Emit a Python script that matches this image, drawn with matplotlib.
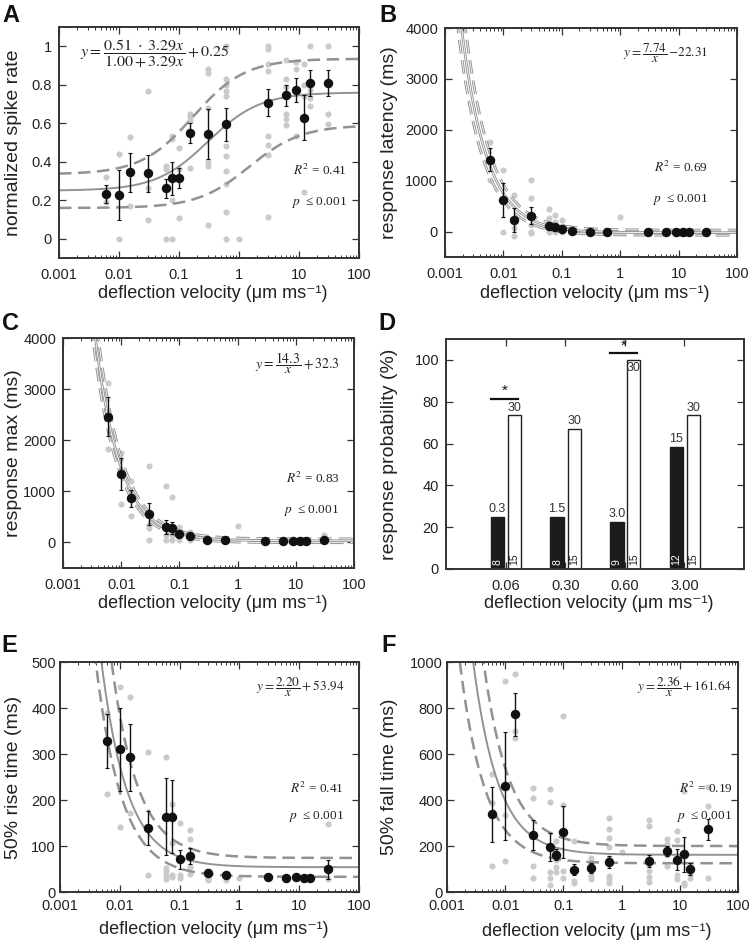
import numpy as np
import matplotlib
matplotlib.use("Agg")
import matplotlib.pyplot as plt
from matplotlib.ticker import FixedLocator, LogLocator, NullFormatter, FuncFormatter

plt.rcParams["font.family"] = ["Liberation Sans", "DejaVu Sans"]
plt.rcParams["mathtext.fontset"] = "stix"

# ---- data ----
vel = [0.006, 0.01, 0.015, 0.03, 0.06, 0.075, 0.1, 0.15, 0.3, 0.6, 3, 6, 9, 12, 15, 30]

# A: normalized spike rate
A_mean = [0.234, 0.227, 0.345, 0.34, 0.262, 0.314, 0.318, 0.549, 0.545, 0.594,
          0.707, 0.745, 0.771, 0.628, 0.811, 0.809]
A_err = [0.046, 0.13, 0.10, 0.095, 0.05, 0.087, 0.052, 0.05, 0.13, 0.085,
         0.071, 0.055, 0.062, 0.117, 0.068, 0.068]
A_gray = {0.006: [0.32, 0.19], 0.01: [0.44, 0.0], 0.015: [0.53, 0.17],
          0.03: [0.77, 0.265, 0.095], 0.06: [0.38, 0.36, 0.0],
          0.075: [0.535, 0.52, 0.2, 0.0], 0.1: [0.47, 0.36, 0.11],
          0.15: [0.65, 0.63, 0.61, 0.365], 0.3: [0.88, 0.86, 0.68, 0.40, 0.38, 0.07],
          0.6: [1.0, 0.83, 0.80, 0.77, 0.74, 0.48, 0.43, 0.35, 0.285, 0.14, 0.0],
          1: [0.0], 3: [1.0, 0.985, 0.91, 0.87, 0.535, 0.485, 0.435, 0.115],
          6: [0.93, 0.83, 0.79, 0.65, 0.62, 0.59], 9: [0.92, 0.88, 0.535],
          12: [0.91, 0.80, 0.74, 0.245], 15: [1.0, 0.775, 0.73, 0.69],
          30: [1.0, 0.65, 0.595]}
A_fit = [0.51, 3.29, 0.25]        # amp, k, base
A_hi = [0.60, 5.8, 0.335]
A_lo = [0.43, 0.67, 0.16]

# B: response latency
B_mean = [1412, 618, 228, 312, 110, 91, 52, 13, -5, -5, -15, -15, -15, -15, -15, -15]
B_err = [230, 340, 230, 170, 80, 50, 40, 15, 10, 10, 5, 5, 5, 5, 5, 10]
B_gray = {0.006: [1757, 1008], 0.01: [1200, 0], 0.015: [715, 65, -78],
          0.03: [1008, 650, 130, 0, -30], 0.06: [440, 260, 0], 0.075: [325, 195, 0],
          0.1: [228, 100, 0], 0.15: [65, 0], 0.3: [30], 1: [293]}
B_fit = [7.74, -22.31]
B_hi = [8.9, 28]
B_lo = [6.75, -72]

# C: response max
C_mean = [2460, 1338, 868, 561, 300, 280, 163, 117, 52, 40, 26, 20, 20, 20, 20, 40]
C_err = [385, 315, 165, 215, 140, 120, 50, 40, 20, 15, 10, 10, 10, 10, 10, 30]
C_gray = {0.006: [3120, 1830], 0.01: [1750, 750], 0.015: [1195, 510],
          0.03: [1500, 345, 280, 40], 0.06: [1095, 150, 52], 0.075: [880, 150, 52],
          0.1: [300, 240, 150, 52], 0.15: [200, 120, 52], 1: [325], 30: [150]}
C_fit = [14.3, 32.3]
C_hi = [15.9, 70]
C_lo = [13.0, -5]

# D: response probability
D_cats = ["0.06", "0.30", "0.60", "3.00"]
D_black = [25, 25, 22.5, 58.5]
D_white = [73.5, 67, 100, 73.5]
D_black_top = ["0.3", "1.5", "3.0", "15"]
D_white_top = ["30", "30", "30", "30"]
D_black_n = ["8", "8", "9", "12"]
D_white_n = ["15", "15", "15", "15"]
D_sig = [(0, 81.5), (2, 103.2)]

# E: 50% rise time
E_mean = [328, 310, 293, 140, 164, 164, 71, 78, 42, 36, 33, 30, 33, 30, 30, 49]
E_err = [58, 90, 73, 37, 83, 80, 20, 17, 7, 5, 3, 3, 3, 3, 3, 20]
E_gray = {0.006: [389, 214], 0.01: [446, 141], 0.015: [424, 172], 0.03: [304, 36],
          0.06: [293, 52, 46, 36, 29], 0.075: [192, 170, 107, 36, 32],
          0.1: [149, 36, 31], 0.15: [134, 115, 54, 40], 0.3: [31, 26],
          0.6: [40, 26], 1: [31], 30: [147, 29]}
E_fit = [2.20, 53.94]
E_hi = [3.1, 74]
E_lo = [1.85, 33]

# F: 50% fall time
F_mean = [338, 462, 772, 249, 196, 162, 261, 97, 104, 130, 135, 178, 141, 164, 101, 272]
F_err = [120, 235, 93, 65, 60, 25, 115, 25, 20, 25, 25, 20, 45, 75, 25, 45]
F_gray = {0.006: [514, 387, 113], 0.01: [916, 335, 135], 0.015: [948, 700, 668],
          0.03: [452, 408, 112, 62], 0.06: [450, 390, 88, 60, 30],
          0.075: [220, 180, 140, 110, 85], 0.1: [765, 380, 90, 60],
          0.15: [220, 50, 40], 0.3: [150, 120, 90, 70, 55],
          0.6: [320, 275, 235, 195, 150, 70, 55, 40], 1: [175],
          3: [315, 285, 120, 90, 65, 45], 6: [230, 210, 160, 115],
          9: [265, 225, 75, 55], 12: [440, 40, 30], 15: [60, 80], 30: [375, 455, 60]}
F_fit = [2.36, 161.64]
F_hi = [3.4, 200]
F_lo = [1.45, 125]

# ---- drawing ----
W, H = 749, 941
fig = plt.figure(figsize=(W / 100, H / 100), dpi=100)

FRAME = "#333333"
TXT = "#222222"
CURVE = "#929292"
GRAY = "#cacaca"
SERIF = ["Liberation Serif", "DejaVu Serif"]

xs = np.logspace(-3, 2, 600)


def hyper(p):
    return p[0] / xs + p[1]


def sat(p):
    return p[2] + p[0] * p[1] * xs / (1 + p[1] * xs)


def px_axes(l, t, r, b):
    return fig.add_axes([l / W, 1 - b / H, (r - l) / W, (b - t) / H])


def style(ax, padx=7, pady=4):
    for s in ax.spines.values():
        s.set_linewidth(1.4)
        s.set_color(FRAME)
    ax.tick_params(which="both", direction="in", top=True, right=True,
                   colors=FRAME, labelcolor=TXT, labelsize=10.5)
    ax.tick_params(which="major", length=5, width=0.9)
    ax.tick_params(which="minor", length=2.5, width=0.7)
    ax.tick_params(axis="x", pad=padx)
    ax.tick_params(axis="y", pad=pady)


def logx(ax):
    ax.set_xscale("log")
    ax.set_xlim(1e-3, 100)
    ax.xaxis.set_major_locator(FixedLocator([1e-3, 1e-2, 1e-1, 1, 10, 100]))
    ax.xaxis.set_major_formatter(FuncFormatter(lambda v, p: f"{v:g}"))
    ax.xaxis.set_minor_locator(LogLocator(base=10, subs=np.arange(2, 10)))
    ax.xaxis.set_minor_formatter(NullFormatter())


def scatter_panel(ax, gray, mean, err, ymin, ymax, yticks, fit, hi, lo, kind, double=False):
    for v, vals in gray.items():
        ax.plot([v] * len(vals), vals, "o", color=GRAY, ms=4.4, mec="none", zorder=1)
    f = sat if kind == "sat" else hyper
    for p, ls in [(hi, "--"), (lo, "--"), (fit, "-")]:
        y = f(p)
        if ls == "--":
            if double:
                ax.plot(xs, y, ls, color=CURVE, lw=2.0, dashes=(5, 2.4), zorder=2)
                ax.plot(xs, y, ls, color="white", lw=0.6,
                        dashes=(5 * 2.0 / 0.6, 2.4 * 2.0 / 0.6), zorder=2.1)
            else:
                ax.plot(xs, y, ls, color=CURVE, lw=1.8, dashes=(5, 2.6), zorder=2)
        else:
            if double:
                ax.plot(xs, y, ls, color=CURVE, lw=1.9, zorder=2)
                ax.plot(xs, y, ls, color="white", lw=0.6, zorder=2.1)
            else:
                ax.plot(xs, y, ls, color=CURVE, lw=1.4, zorder=2)
    ax.errorbar(vel, mean, yerr=err, fmt="o", color="#111111", ms=5.8,
                elinewidth=1.0, capsize=1.3, capthick=0.8, zorder=3)
    logx(ax)
    ax.set_ylim(ymin, ymax)
    ax.yaxis.set_major_locator(FixedLocator(yticks))
    ax.yaxis.set_major_formatter(FuncFormatter(lambda v, p: f"{v:g}"))


def stats(ax, xr, y_eq, y_r, y_p, eq, r2, eq_size=9.5):
    if eq is not None:
        ax.text(xr, y_eq, eq, transform=ax.transAxes, ha="right", va="center",
                fontsize=eq_size, color=TXT)
    ax.text(xr, y_r, "$R^2$ = " + r2, transform=ax.transAxes, ha="right",
            va="center", fontsize=9.5, color=TXT, family=SERIF)
    ax.text(xr, y_p, "$p$  \u2264 0.001", transform=ax.transAxes, ha="right",
            va="center", fontsize=9.5, color=TXT, family=SERIF)


def labels(ax, letter, lx, ly, ylabel, ylab_x, xlab_y):
    fig.text(lx / W, 1 - ly / H, letter, fontsize=17, fontweight="bold",
             ha="left", va="center", color="#111111")
    bb = ax.get_position()
    fig.text(ylab_x / W, (bb.y0 + bb.y1) / 2, ylabel, rotation=90, ha="center",
             va="center", fontsize=14, color=TXT)
    fig.text((bb.x0 + bb.x1) / 2 + 4 / W, 1 - xlab_y / H,
             "deflection velocity (\u03bcm ms\u207b\u00b9)", ha="center",
             va="center", fontsize=13, color=TXT)


# A
axA = px_axes(59, 27, 359, 258)
scatter_panel(axA, A_gray, A_mean, A_err, -0.1, 1.1, [0, 0.2, 0.4, 0.6, 0.8, 1],
              A_fit, A_hi, A_lo, "sat")
style(axA, padx=7, pady=5)
axA.text(0.07, 0.885, r"$y=\dfrac{0.51\ \cdot\ 3.29x}{1.00+3.29x}+0.25$",
         transform=axA.transAxes, ha="left", va="center", fontsize=11.5, color=TXT)
stats(axA, 0.96, None, 0.38, 0.24, None, "0.41")
labels(axA, "A", 2, 15, "normalized spike rate", 14, 293)

# B
axB = px_axes(445, 28, 737, 257)
scatter_panel(axB, B_gray, B_mean, B_err, -500, 4000, [0, 1000, 2000, 3000, 4000],
              B_fit, B_hi, B_lo, "hyper", double=True)
style(axB, padx=7, pady=5)
stats(axB, 0.90, 0.89, 0.39, 0.25, r"$y=\dfrac{7.74}{x}\,\mathrm{-22.31}$", "0.69", 9.5)
labels(axB, "B", 379, 15, "response latency (ms)", 389, 293)

# C
axC = px_axes(63, 338, 354, 568)
scatter_panel(axC, C_gray, C_mean, C_err, -500, 4000, [0, 1000, 2000, 3000, 4000],
              C_fit, C_hi, C_lo, "hyper", double=True)
style(axC, padx=7, pady=5)
stats(axC, 0.95, 0.89, 0.39, 0.25, r"$y=\dfrac{14.3}{x}+32.3$", "0.83", 10)
labels(axC, "C", 2, 323, "response max (ms)", 14, 603)

# D
axD = px_axes(446, 339, 744, 569)
pos = np.arange(1, len(D_cats) + 1)
axD.bar(pos - 0.135, D_black, width=0.23, color="#1c1c1c", edgecolor="#1c1c1c", zorder=2)
axD.bar(pos + 0.152, D_white, width=0.22, color="white", edgecolor="#222222", lw=1.0, zorder=2)
for i in range(len(D_cats)):
    axD.text(pos[i] - 0.135, D_black[i] + 0.8, D_black_top[i], ha="center", va="bottom",
             fontsize=9, color="#333333")
    if D_white[i] + 8 > 110 - 8:
        axD.text(pos[i] + 0.152, D_white[i] - 0.8, D_white_top[i], ha="center", va="top",
                 fontsize=9, color="#333333")
    else:
        axD.text(pos[i] + 0.152, D_white[i] + 0.8, D_white_top[i], ha="center", va="bottom",
                 fontsize=9, color="#333333")
    axD.text(pos[i] - 0.135, 1.8, D_black_n[i], rotation=90, ha="center", va="bottom",
             fontsize=7.5, color="white", zorder=3)
    axD.text(pos[i] + 0.152, 1.8, D_white_n[i], rotation=90, ha="center", va="bottom",
             fontsize=7.5, color="#222222", zorder=3)
for i, h in D_sig:
    axD.plot([pos[i] - 0.25, pos[i] + 0.21], [h, h], color="#111111", lw=1.6)
    axD.text(pos[i] - 0.02, h + 0.2, "*", ha="center", va="bottom", fontsize=11,
             color="#111111")
axD.set_xlim(0, 5)
axD.set_ylim(0, 110)
axD.xaxis.set_major_locator(FixedLocator(pos))
axD.set_xticklabels(D_cats)
axD.yaxis.set_major_locator(FixedLocator([0, 20, 40, 60, 80, 100]))
style(axD, padx=7, pady=5)
labels(axD, "D", 378, 324, "response probability (%)", 389, 603)

# E
axE = px_axes(60, 662, 359, 892)
scatter_panel(axE, E_gray, E_mean, E_err, 0, 500, [0, 100, 200, 300, 400, 500],
              E_fit, E_hi, E_lo, "hyper")
style(axE, padx=5, pady=3)
stats(axE, 0.95, 0.89, 0.45, 0.33, r"$y=\dfrac{2.20}{x}+53.94$", "0.41")
labels(axE, "E", 1, 646, "50% rise time (ms)", 14, 930)

# F
axF = px_axes(447, 662, 738, 892)
scatter_panel(axF, F_gray, F_mean, F_err, 0, 1000, [0, 200, 400, 600, 800, 1000],
              F_fit, F_hi, F_lo, "hyper")
style(axF, padx=5, pady=3)
stats(axF, 0.98, 0.89, 0.45, 0.33, r"$y=\dfrac{2.36}{x}+161.64$", "0.19")
labels(axF, "F", 381, 646, "50% fall time (ms)", 389, 932)

fig.savefig("out.png", dpi=100)
